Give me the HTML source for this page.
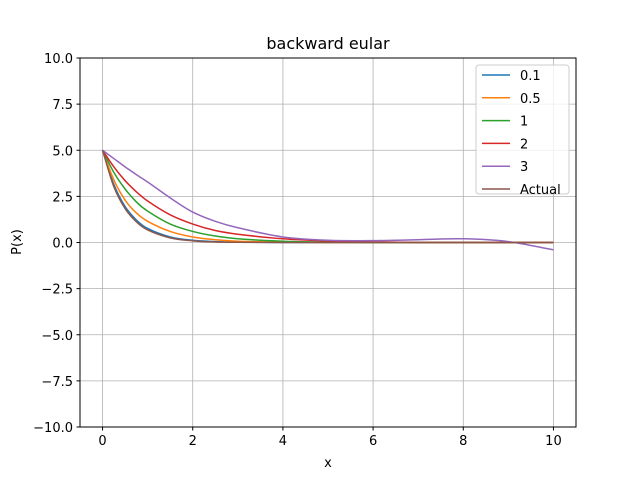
<!DOCTYPE html>
<html><head><meta charset="utf-8"><style>body{margin:0;background:#fff}svg{display:block;font-family:"DejaVu Sans","Liberation Sans",sans-serif}</style></head>
<body>
<svg id="chart" width="640" height="480">
<rect width="640" height="480" fill="#fff"/>
<g id="grid"></g>
<g id="ticks"></g>
<g id="lines"></g>
<rect x="80" y="58" width="496" height="369" fill="none" stroke="#000" stroke-width="1"/>
<text x="328" y="49" font-size="16" text-anchor="middle">backward eular</text>
<text x="328" y="467" font-size="13" text-anchor="middle">x</text>
<text x="21" y="242" font-size="13" text-anchor="middle" transform="rotate(-90 21 242)">P(x)</text>
<g id="legend"></g>
</svg>
<script>
const xs = [0,0.25,0.5,0.75,1,1.5,2,2.5,3,4,5,6,7,8,9,10];
const seriesNames = ["0.1","0.5","1","2","3","Actual"];
const colors = ["#1f77b4","#ff7f0e","#2ca02c","#d62728","#9467bd","#8c564b"];
const s01 = [5,3.15,1.95,1.22,0.76,0.3,0.12,0.05,0.02,0,0,0,0,0,0,0];
const s05 = [5,3.4,2.3,1.6,1.15,0.6,0.3,0.15,0.07,0.02,0,0,0,0,0,0];
const s1 = [5,3.8,2.9,2.2,1.7,1.0,0.6,0.35,0.2,0.07,0.02,0,0,0,0,0];
const s2 = [5,4.1,3.35,2.75,2.25,1.5,1.0,0.65,0.45,0.2,0.08,0.03,0,0,0,0];
const s3 = [5,4.55,4.1,3.68,3.28,2.42,1.65,1.15,0.8,0.3,0.12,0.1,0.15,0.2,0.05,-0.4];
const sActual = [5,3.03,1.84,1.12,0.68,0.25,0.09,0.03,0.012,0,0,0,0,0,0,0];
const xTicks = [0,2,4,6,8,10];
const yTicks = [-10,-7.5,-5,-2.5,0,2.5,5,7.5,10];
const yTickLabels = ["\u221210.0","\u22127.5","\u22125.0","\u22122.5","0.0","2.5","5.0","7.5","10.0"];

const NS="http://www.w3.org/2000/svg";
const X0=80,X1=576,Y0=58,Y1=427;
const xMin=-0.5,xMax=10.5,yMin=-10,yMax=10;
function sx(v){return X0+(v-xMin)/(xMax-xMin)*(X1-X0);}
function sy(v){return Y1-(v-yMin)/(yMax-yMin)*(Y1-Y0);}
function mk(tag,attrs,parent){const e=document.createElementNS(NS,tag);for(const k in attrs)e.setAttribute(k,attrs[k]);parent.appendChild(e);return e;}
const grid=document.getElementById('grid'),ticks=document.getElementById('ticks'),lines=document.getElementById('lines'),legend=document.getElementById('legend');
xTicks.forEach(t=>{
  const g=mk('line',{x1:sx(t),x2:sx(t),y1:Y0,y2:Y1,stroke:'#b0b0b0','stroke-width':0.8},grid);
  
  
  const tk=mk('line',{x1:sx(t),x2:sx(t),y1:Y1,y2:Y1+3.5,stroke:'#000'},ticks);
  
  
  const tl=mk('text',{x:sx(t),y:Y1+18,'font-size':13,'text-anchor':'middle'},ticks);
  tl.textContent=String(t);
  
  
});
yTicks.forEach((t,i)=>{
  const g=mk('line',{x1:X0,x2:X1,y1:sy(t),y2:sy(t),stroke:'#b0b0b0','stroke-width':0.8},grid);
  
  
  const tk=mk('line',{x1:X0-3.5,x2:X0,y1:sy(t),y2:sy(t),stroke:'#000'},ticks);
  
  
  const tl=mk('text',{x:X0-7,y:sy(t)+5,'font-size':13,'text-anchor':'end'},ticks);
  tl.textContent=yTickLabels[i];
  
  
});
function smoothPath(px){
  const n=px.length, m=[];
  for(let i=0;i<n;i++){
    const a=px[Math.max(0,i-1)], b=px[Math.min(n-1,i+1)];
    m.push((b[1]-a[1])/(b[0]-a[0]));
  }
  let d='M'+px[0][0].toFixed(2)+','+px[0][1].toFixed(2);
  for(let i=0;i<n-1;i++){
    const p1=px[i],p2=px[i+1],h=(p2[0]-p1[0])/3;
    d+=' C'+(p1[0]+h).toFixed(2)+','+(p1[1]+m[i]*h).toFixed(2)+' '+(p2[0]-h).toFixed(2)+','+(p2[1]-m[i+1]*h).toFixed(2)+' '+p2[0].toFixed(2)+','+p2[1].toFixed(2);
  }
  return d;
}
const allSeries=[s01,s05,s1,s2,s3,sActual];
allSeries.forEach((s,i)=>{
  const px=s.map((v,j)=>[sx(xs[j]),sy(v)]);
  const p=mk('path',{d:smoothPath(px),fill:'none',stroke:colors[i],'stroke-width':1.5,'stroke-linejoin':'round'},lines);
  
  
});
const lb=mk('rect',{x:476,y:65,width:93,height:129,rx:3,fill:'#fff','fill-opacity':0.8,stroke:'#ccc'},legend);


seriesNames.forEach((n,i)=>{
  const y=75+i*22.8;
  const l=mk('line',{x1:482,x2:510,y1:y,y2:y,stroke:colors[i],'stroke-width':1.5},legend);
  
  
  const t=mk('text',{x:520,y:y+5,'font-size':13},legend);
  t.textContent=n;
  
  
});
</script>
</body></html>
